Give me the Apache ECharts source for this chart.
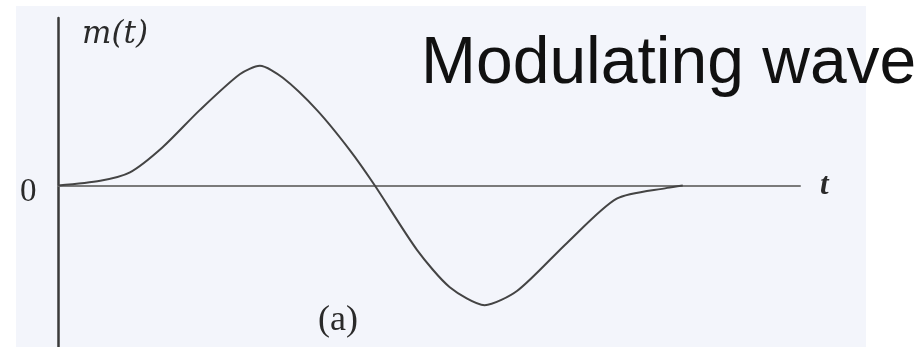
<!DOCTYPE html>
<html>
<head>
<meta charset="utf-8">
<script src="https://cdn.jsdelivr.net/npm/echarts@6/dist/echarts.min.js"></script>
<style>
  html, body { margin: 0; padding: 0; background: #ffffff; }
  #chart { width: 922px; height: 347px; }
</style>
</head>
<body>
<div id="chart"></div>
<script>
// Sample points of the modulating signal m(t)
const tValues = [0, 0.57, 0.97, 1.41, 1.91, 2.45, 2.72, 3.03, 3.49, 3.94, 4.27, 4.84, 5.28, 5.75, 6.19, 6.86, 7.53, 8.21, 8.42];
const mValues = [0, 0.04, 0.11, 0.32, 0.63, 0.93, 1.0, 0.9, 0.63, 0.29, 0, -0.54, -0.85, -1.0, -0.88, -0.48, -0.11, -0.02, 0];

const points = tValues.map((t, i) => [t, mValues[i]]);

const chart = echarts.init(document.getElementById('chart'), null, { renderer: 'canvas' });

chart.setOption({
  backgroundColor: '#ffffff',
  animation: false,
  grid: { left: 58, right: 122, top: 18, bottom: 0 },
  xAxis: {
    type: 'value',
    min: 0,
    max: 10,
    axisLine: { show: true, onZero: true, lineStyle: { color: '#7a7a7a', width: 2 } },
    axisTick: { show: false },
    axisLabel: { show: false },
    splitLine: { show: false },
    name: 't',
    nameLocation: 'end',
    nameGap: 20,
    nameTextStyle: { fontFamily: 'Liberation Serif', fontStyle: 'italic', fontWeight: 'bold', fontSize: 31, color: '#2a2a2a', padding: [0, 0, -12, 0] }
  },
  yAxis: {
    type: 'value',
    min: -1.35,
    max: 1.4,
    axisLine: { show: true, onZero: true, lineStyle: { color: '#3a3a3a', width: 2.5 } },
    axisTick: { show: false },
    axisLabel: { show: false },
    splitLine: { show: false }
  },
  graphic: [
    {
      type: 'rect', z: -10, silent: true,
      shape: { x: 16, y: 6, width: 850, height: 341 },
      style: { fill: '#f3f5fb' }
    },
    {
      type: 'text', left: 20, top: 176,
      style: { text: '0', fontFamily: 'Liberation Serif', fontSize: 33, fill: '#2a2a2a' }
    },
    {
      type: 'text', left: 82, top: 19,
      style: { text: 'm(t)', fontFamily: 'DejaVu Serif', fontStyle: 'italic', fontSize: 31, fill: '#2a2a2a' }
    },
    {
      type: 'text', left: 318, top: 303,
      style: { text: '(a)', fontFamily: 'Liberation Serif', fontSize: 36, fill: '#2a2a2a' }
    },
    {
      type: 'text', left: 421, top: 32,
      style: { text: 'Modulating wave', fontFamily: 'Liberation Sans', fontSize: 66, fill: '#111' }
    }
  ],
  series: [
    {
      type: 'line',
      data: points,
      smooth: 0.25,
      symbol: 'none',
      lineStyle: { color: '#444', width: 2 }
    }
  ]
});
</script>
</body>
</html>
